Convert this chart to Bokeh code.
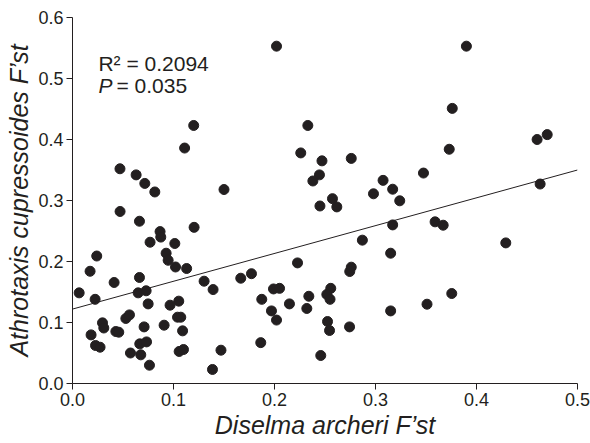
from bokeh.plotting import figure
from bokeh.models import Range1d, FixedTicker, PrintfTickFormatter, Label, ColumnDataSource
from bokeh.embed import file_html
from bokeh.resources import INLINE

# Data
diselma_fst = [
    0.202, 0.390, 0.120, 0.233, 0.111, 0.226, 0.247, 0.2445, 0.238, 0.047,
    0.063, 0.0716, 0.0815, 0.150, 0.376, 0.373, 0.460, 0.470, 0.463, 0.276,
    0.3475, 0.3075, 0.317, 0.298, 0.2574, 0.324, 0.245, 0.2617, 0.317, 0.359,
    0.367, 0.287, 0.315, 0.429, 0.276, 0.2745, 0.2557, 0.2518, 0.255, 0.234,
    0.232, 0.3755, 0.351, 0.315, 0.2525, 0.2545, 0.2743, 0.2458, 0.0471, 0.0663,
    0.0867, 0.0874, 0.0768, 0.1013, 0.1204, 0.024, 0.0174, 0.0927, 0.0947, 0.102,
    0.113, 0.0663, 0.0412, 0.0066, 0.0224, 0.065, 0.0729, 0.0749, 0.1303, 0.1392,
    0.1666, 0.1772, 0.2228, 0.199, 0.205, 0.1874, 0.2148, 0.197, 0.202, 0.1864,
    0.0966, 0.1052, 0.104, 0.1072, 0.109, 0.0907, 0.0709, 0.0528, 0.0564, 0.0297,
    0.031, 0.0184, 0.0429, 0.0458, 0.0228, 0.0273, 0.0666, 0.0733, 0.0676, 0.0574,
    0.0762, 0.1056, 0.1099, 0.147, 0.1386,
]
athrotaxis_fst = [
    0.553, 0.553, 0.423, 0.423, 0.386, 0.378, 0.365, 0.342, 0.332, 0.352,
    0.342, 0.328, 0.314, 0.318, 0.451, 0.384, 0.400, 0.408, 0.327, 0.369,
    0.345, 0.333, 0.3185, 0.311, 0.303, 0.2995, 0.291, 0.2895, 0.260, 0.265,
    0.2595, 0.235, 0.2136, 0.2305, 0.1907, 0.1836, 0.156, 0.146, 0.138, 0.143,
    0.123, 0.1475, 0.130, 0.119, 0.1016, 0.0869, 0.0928, 0.0459, 0.282, 0.266,
    0.249, 0.240, 0.2316, 0.2295, 0.256, 0.209, 0.184, 0.2136, 0.202, 0.191,
    0.1885, 0.1738, 0.1656, 0.1486, 0.138, 0.1486, 0.152, 0.1305, 0.1677, 0.154,
    0.1726, 0.180, 0.1977, 0.155, 0.156, 0.138, 0.1305, 0.119, 0.104, 0.067,
    0.1284, 0.135, 0.1087, 0.1087, 0.0863, 0.0956, 0.0928, 0.1066, 0.1125, 0.0994,
    0.091, 0.0797, 0.0852, 0.0841, 0.0623, 0.0595, 0.065, 0.0682, 0.047, 0.050,
    0.030, 0.0525, 0.0557, 0.0546, 0.023,
]
fit_intercept = 0.122
fit_slope = 0.456
fit_x = [0.0, 0.5]
x_ticks = [0.0, 0.1, 0.2, 0.3, 0.4, 0.5]
y_ticks = [0.0, 0.1, 0.2, 0.3, 0.4, 0.5, 0.6]
r2_text = "R\u00b2 = 0.2094"
p_text = "= 0.035"

INK = "#231f20"
FONT = "Liberation Sans"

p = figure(width=590, height=443, output_backend="svg", toolbar_location=None,
           x_range=Range1d(0, 0.5), y_range=Range1d(0, 0.6),
           min_border_left=72, min_border_right=13, min_border_top=17, min_border_bottom=60)
p.outline_line_color = None
p.xgrid.visible = False
p.ygrid.visible = False
p.background_fill_color = "white"
p.border_fill_color = "white"

src = ColumnDataSource(dict(x=diselma_fst, y=athrotaxis_fst))
p.scatter("x", "y", source=src, marker="circle", size=10,
          fill_color=INK, line_color=INK)

fit_y = [fit_intercept + fit_slope * v for v in fit_x]
p.line(fit_x, fit_y, line_color=INK, line_width=1)

for ax, ticks in ((p.xaxis[0], x_ticks), (p.yaxis[0], y_ticks)):
    ax.ticker = FixedTicker(ticks=ticks)
    ax.formatter = PrintfTickFormatter(format="%.1f")
    ax.minor_tick_line_color = None
    ax.major_tick_in = 0
    ax.major_tick_out = 6
    ax.major_tick_line_color = INK
    ax.axis_line_color = INK
    ax.major_label_text_font = FONT
    ax.major_label_text_font_size = "18px"
    ax.major_label_text_color = INK
    ax.major_label_standoff = 3
    ax.axis_label_text_font = FONT
    ax.axis_label_text_font_size = "25px"
    ax.axis_label_text_font_style = "italic"
    ax.axis_label_text_color = INK
    ax.axis_label_standoff = 2

p.xaxis[0].axis_label = "Diselma archeri F\u2019st"
p.yaxis[0].axis_label = "Athrotaxis cupressoides F\u2019st"

p.add_layout(Label(x=0.0257, y=0.5246, text=r2_text, text_font=FONT,
                   text_font_size="21px", text_color=INK, text_baseline="alphabetic"))
p.add_layout(Label(x=0.0257, y=0.489, text="P", text_font=FONT, text_font_style="italic",
                   text_font_size="21px", text_color=INK, text_baseline="alphabetic"))
p.add_layout(Label(x=0.0257, y=0.489, x_offset=18, text=p_text, text_font=FONT,
                   text_font_size="21px", text_color=INK, text_baseline="alphabetic"))

open("out.html", "w").write(file_html(p, INLINE))
